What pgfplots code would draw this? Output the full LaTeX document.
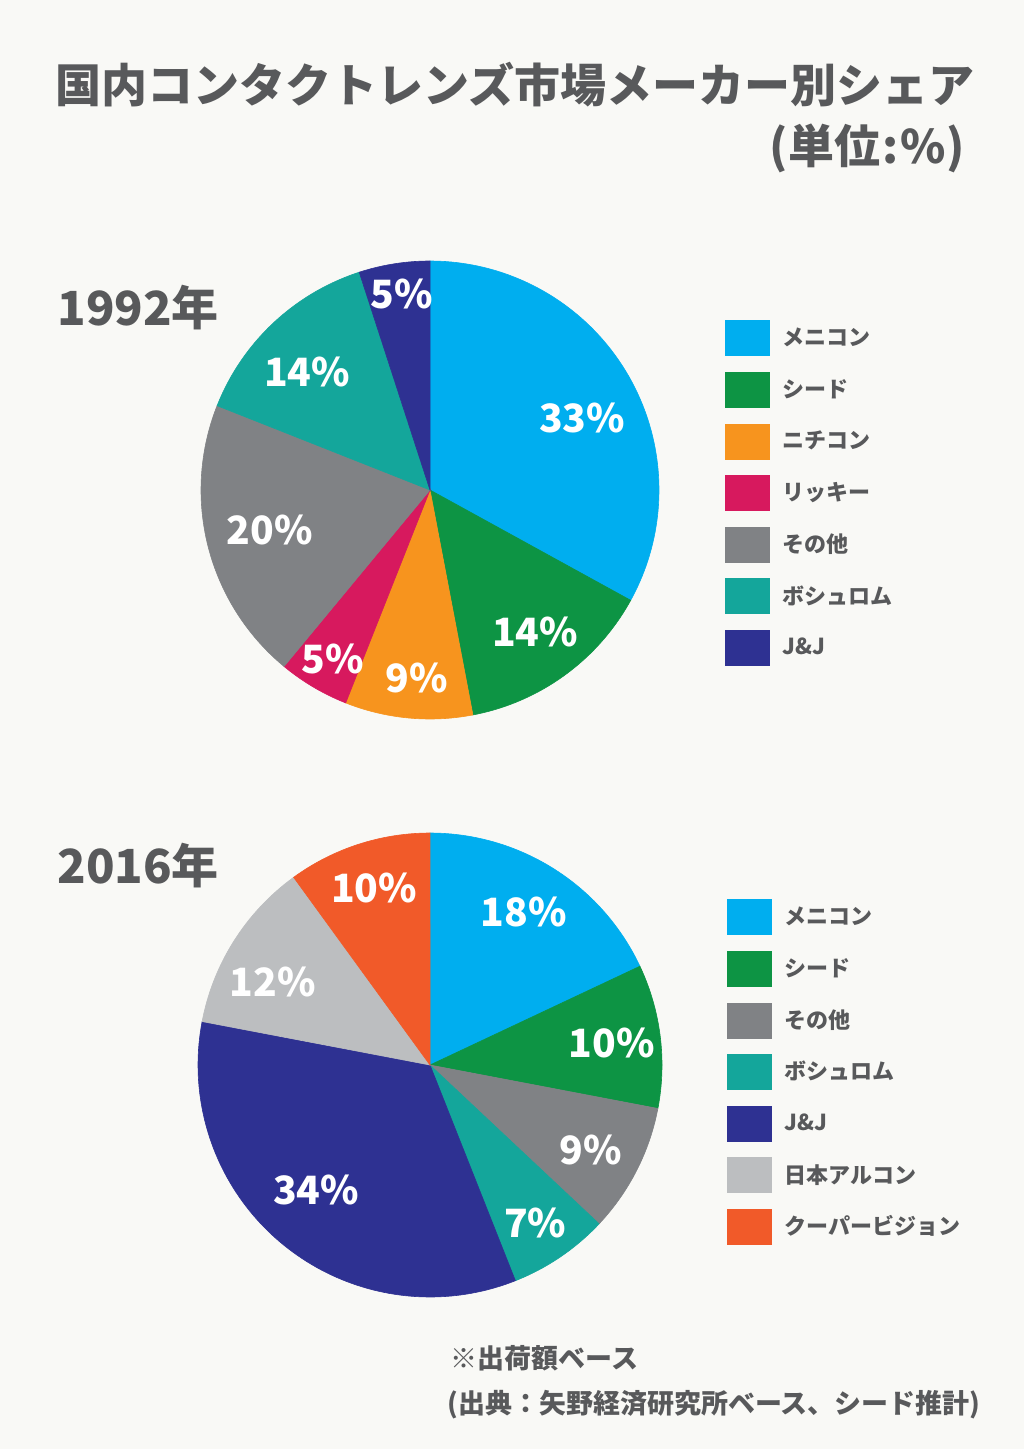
\documentclass[border=0pt]{standalone}
\usepackage{pgfplots}
\pgfplotsset{compat=1.18}
\usepackage{fontspec}
\setmainfont{Noto Sans CJK JP}

\definecolor{bgc}{RGB}{249,249,246}
\definecolor{textgray}{RGB}{88,89,91}
\definecolor{cMen}{RGB}{0,174,239}
\definecolor{cSeed}{RGB}{13,148,68}
\definecolor{cNichi}{RGB}{247,148,30}
\definecolor{cRicky}{RGB}{215,25,94}
\definecolor{cOther}{RGB}{128,130,133}
\definecolor{cBosch}{RGB}{20,166,155}
\definecolor{cJJ}{RGB}{46,49,146}
\definecolor{cAlcon}{RGB}{188,190,192}
\definecolor{cCoop}{RGB}{241,90,41}

% one slice: from cumulative share #1 to #2 (percent), clockwise from 12 o'clock
\newcommand{\pieslice}[3]{%
  \addplot[fill=#3, draw=#3, line width=0.3pt, domain=#1:#2, samples=90]
    ({sin(3.6*x)},{cos(3.6*x)}) -- (axis cs:0,0) -- cycle;}

\pgfplotsset{
  pie/.style={
    anchor=center, x=#1, y=#1,
    xmin=-1.1, xmax=1.1, ymin=-1.1, ymax=1.1,
    hide axis, clip=false,
    legend cell align=left,
    legend image code/.code={\fill[##1] (0pt,-8.75pt) rectangle (22pt,8.75pt);},
    legend style={draw=none, fill=none, inner sep=0pt, row sep=8pt,
      column sep=4.5pt, text=textgray,
      font=\bfseries\fontsize{11}{12}\selectfont},
  },
}
\tikzset{lab/.style={text=white, font=\bfseries\fontsize{19.5}{21}\selectfont}}

\begin{document}
\begin{tikzpicture}
\fill[bgc] (0,0) rectangle (512pt,-724.5pt);

\node[anchor=west, text=textgray, font=\bfseries\fontsize{23}{24}\selectfont, inner sep=0pt]
  at (27.5pt,-42.5pt) {国内コンタクトレンズ市場メーカー別シェア};
\node[anchor=east, text=textgray, font=\bfseries\fontsize{23}{24}\selectfont, inner sep=0pt]
  at (482.5pt,-74pt) {(単位\kern0.05em:\kern0.05em\%)};

\node[anchor=west, text=textgray, font=\bfseries\fontsize{23.5}{25}\selectfont, inner sep=0pt]
  at (28.5pt,-154pt) {1992年};
\node[anchor=west, text=textgray, font=\bfseries\fontsize{23.5}{25}\selectfont, inner sep=0pt]
  at (28.5pt,-433pt) {2016年};

% 1992
\begin{axis}[pie=114.5pt, at={(215pt,-245pt)},
  legend style={at={(axis cs:1.288,0.742)}, anchor=north west}]
\pieslice{0}{33}{cMen}
\pieslice{33}{47}{cSeed}
\pieslice{47}{56}{cNichi}
\pieslice{56}{61}{cRicky}
\pieslice{61}{81}{cOther}
\pieslice{81}{95}{cBosch}
\pieslice{95}{100}{cJJ}
\legend{メニコン, シード, ニチコン, リッキー, その他, ボシュロム, J\&J}
\node[lab] at (axis cs:0.664,0.314) {33\%};
\node[lab] at (axis cs:0.459,-0.620) {14\%};
\node[lab] at (axis cs:-0.057,-0.821) {9\%};
\node[lab] at (axis cs:-0.424,-0.738) {5\%};
\node[lab] at (axis cs:-0.699,-0.175) {20\%};
\node[lab] at (axis cs:-0.537,0.515) {14\%};
\node[lab] at (axis cs:-0.122,0.856) {5\%};
\end{axis}

% 2016
\begin{axis}[pie=116pt, at={(215pt,-532.5pt)},
  legend style={at={(axis cs:1.28,0.716)}, anchor=north west}]
\pieslice{0}{18}{cMen}
\pieslice{18}{28}{cSeed}
\pieslice{28}{37}{cOther}
\pieslice{37}{44}{cBosch}
\pieslice{44}{78}{cJJ}
\pieslice{78}{90}{cAlcon}
\pieslice{90}{100}{cCoop}
\legend{メニコン, シード, その他, ボシュロム, J\&J, 日本アルコン, クーパービジョン}
\node[lab] at (axis cs:0.405,0.659) {18\%};
\node[lab] at (axis cs:0.784,0.095) {10\%};
\node[lab] at (axis cs:0.694,-0.366) {9\%};
\node[lab] at (axis cs:0.453,-0.681) {7\%};
\node[lab] at (axis cs:-0.491,-0.539) {34\%};
\node[lab] at (axis cs:-0.677,0.358) {12\%};
\node[lab] at (axis cs:-0.241,0.763) {10\%};
\end{axis}

\node[anchor=west, text=textgray, font=\bfseries\fontsize{13.5}{14}\selectfont, inner sep=0pt]
  at (225pt,-679pt) {※出荷額ベース};
\node[anchor=west, text=textgray, font=\bfseries\fontsize{13.5}{14}\selectfont, inner sep=0pt]
  at (223.5pt,-702.5pt) {(出典：矢野経済研究所ベース、シード推計)};

\pgfresetboundingbox
\path (0,0) rectangle (512pt,-724.5pt);
\end{tikzpicture}
\end{document}
